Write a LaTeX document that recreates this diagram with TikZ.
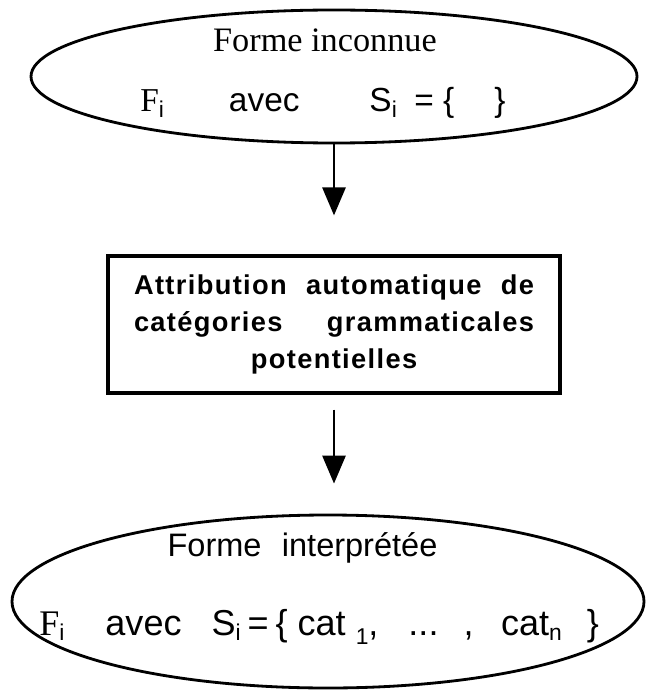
\documentclass[tikz,border=0pt]{standalone}
\usepackage{fontspec}
\setmainfont{Liberation Serif}
\setsansfont{Liberation Sans}
\usepackage{tikz}
\usetikzlibrary{arrows.meta,positioning,calc,shapes.geometric}
\newcommand{\indice}[2][-0.3ex]{\raisebox{#1}{\fontsize{13}{13}\selectfont #2}}
\tikzset{
  forme/.style={ellipse, draw=black, line width=1.6pt, inner sep=0pt},
  boite/.style={rectangle, draw=black, line width=1.8pt, align=center, inner sep=0pt,
                font=\sffamily\bfseries\fontsize{15.5}{21.3}\selectfont\addfontfeatures{LetterSpace=5}},
  titre/.style={font=\fontsize{19.5}{22}\selectfont, inner sep=0pt, anchor=base},
  ligne/.style={font=\sffamily\fontsize{19}{22}\selectfont, inner sep=0pt, anchor=base west},
  arr/.style={-{Triangle[length=5.6mm,width=4.6mm]}, line width=1.6pt},
}

\begin{document}
\begin{tikzpicture}
  \useasboundingbox (0,0) rectangle (12.9,-13.86);
  % forme de depart
  \node[forme, minimum width=12.12cm, minimum height=2.66cm] (inconnue) at (6.68,-1.53) {};
  \node[titre] (titre1) at (6.5,-1.04) {Forme inconnue};
  \node[ligne] (expr1) at (2.8,-2.24)
    {{\rmfamily F}\indice{i}\hspace{1.3cm}avec\hspace{1.4cm}S\indice{i}\hspace{0.35cm}= \{\hspace{0.8cm}\}};
  % traitement
  \node[boite, minimum width=9.04cm, minimum height=2.74cm] (attrib) at (6.68,-6.49)
    {\makebox[8.0cm][s]{Attribution automatique de}\\
     \makebox[8.0cm][s]{catégories grammaticales}\\
     potentielles};
  % forme obtenue
  \node[forme, minimum width=12.64cm, minimum height=3.46cm] (interp) at (6.56,-12.03) {};
  \node[ligne, anchor=base, font=\sffamily\fontsize{18.5}{22}\selectfont] (titre2) at (6.05,-11.12)
    {Forme\hspace{0.35em} interprétée};
  \node[ligne, font=\sffamily\fontsize{20.5}{22}\selectfont] (expr2) at (0.78,-12.7)
    {{\rmfamily F}\indice{i}\hspace{0.82cm}avec\hspace{0.6cm}S\indice{i}\hspace{0.14cm}=\hspace{0.14cm}\{\hspace{0.2cm}cat\hspace{0.2cm}\indice[-0.5ex]{1},\hspace{0.6cm}...\hspace{0.5cm},\hspace{0.55cm}cat\indice{n}\hspace{0.5cm}\}};
  \draw[arr, shorten >=0.78cm] (inconnue.south -| attrib.north) -- (attrib.north);
  \draw[arr, shorten <=0.3cm, shorten >=0.6cm] (attrib.south) -- (attrib.south |- interp.north);
\end{tikzpicture}
\end{document}
